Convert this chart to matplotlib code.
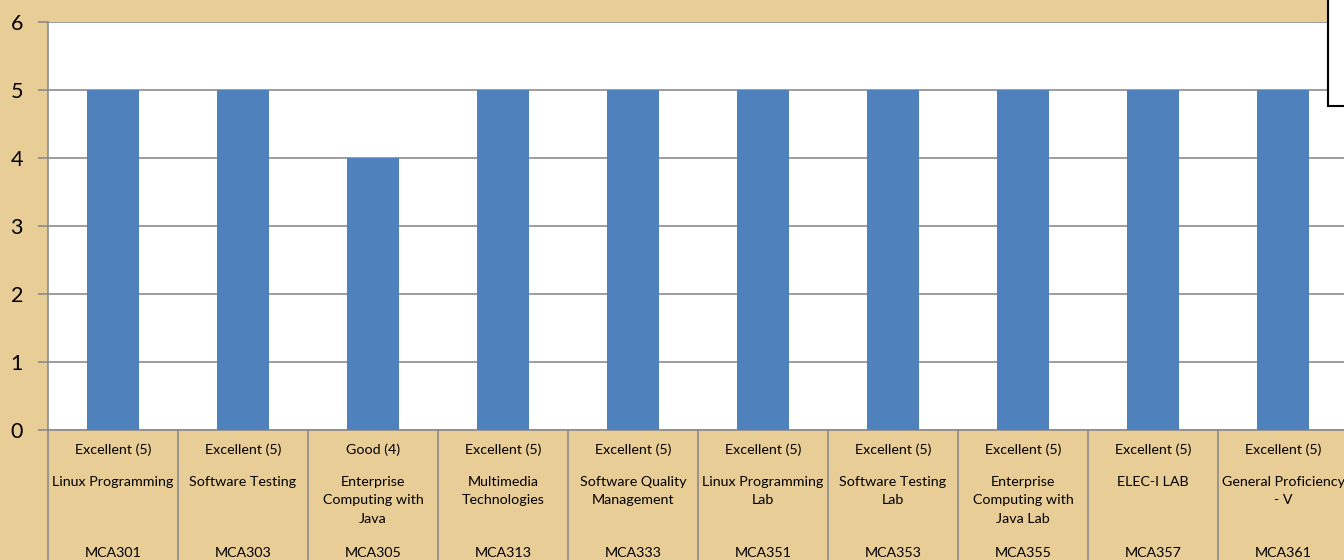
import matplotlib.pyplot as plt
from matplotlib.patches import Rectangle

codes = ['MCA301', 'MCA303', 'MCA305', 'MCA313', 'MCA333',
         'MCA351', 'MCA353', 'MCA355', 'MCA357', 'MCA361']
subjects = ['Linux Programming', 'Software Testing', 'Enterprise\nComputing with\nJava',
            'Multimedia\nTechnologies', 'Software Quality\nManagement', 'Linux Programming\nLab',
            'Software Testing\nLab', 'Enterprise\nComputing with\nJava Lab', 'ELEC-I LAB',
            'General Proficiency\n- V']
ratings = ['Excellent (5)', 'Excellent (5)', 'Good (4)', 'Excellent (5)', 'Excellent (5)',
           'Excellent (5)', 'Excellent (5)', 'Excellent (5)', 'Excellent (5)', 'Excellent (5)']
grades = [5, 5, 4, 5, 5, 5, 5, 5, 5, 5]

plt.rcParams['font.family'] = ['Lato', 'DejaVu Sans']

W, H = 1344, 560
fig = plt.figure(figsize=(W / 100, H / 100), dpi=100)
fig.patch.set_facecolor('#E8CD97')

# plot area in pixels: x 48..1348, y 22..430
ax = fig.add_axes([48 / W, (H - 430) / H, 1300 / W, 408 / H])
ax.set_facecolor('white')

x = range(len(codes))
ax.bar(x, grades, width=0.4, color='#4F81BD', zorder=3)

ax.set_xlim(-0.5, len(codes) - 0.5)
ax.set_ylim(0, 6)
ax.set_yticks(range(7))
ax.yaxis.grid(True, color='#8C8C8C', linewidth=1.2)
ax.set_axisbelow(True)
ax.set_xticks([])
ax.tick_params(axis='y', length=7, width=1.2, color='#8C8C8C', labelsize=15.5, pad=11)
for s in ['top', 'right']:
    ax.spines[s].set_visible(False)
for s in ['left', 'bottom']:
    ax.spines[s].set_color('#8C8C8C')
    ax.spines[s].set_linewidth(1.2)

px = 1 / 408.0
tr = ax.get_xaxis_transform()
fs = 10.3
for i in x:
    ax.text(i, -20 * px, ratings[i], transform=tr, ha='center', va='center', fontsize=fs)
    ax.text(i, -46 * px, subjects[i], transform=tr, ha='center', va='top', fontsize=fs,
            linespacing=1.65)
    ax.text(i, -123 * px, codes[i], transform=tr, ha='center', va='center', fontsize=fs)

for b in range(len(codes) + 1):
    ax.plot([b - 0.5, b - 0.5], [0, -140 * px], transform=tr, color='#8C8C8C',
            linewidth=1.2, clip_on=False)

# legend box cut off at top right
fig.patches.append(Rectangle((1328 / W, (H - 106) / H), 40 / W, 120 / H,
                             transform=fig.transFigure, facecolor='white',
                             edgecolor='black', linewidth=1.5, zorder=5))

fig.savefig('out.png', dpi=100, facecolor=fig.get_facecolor())
